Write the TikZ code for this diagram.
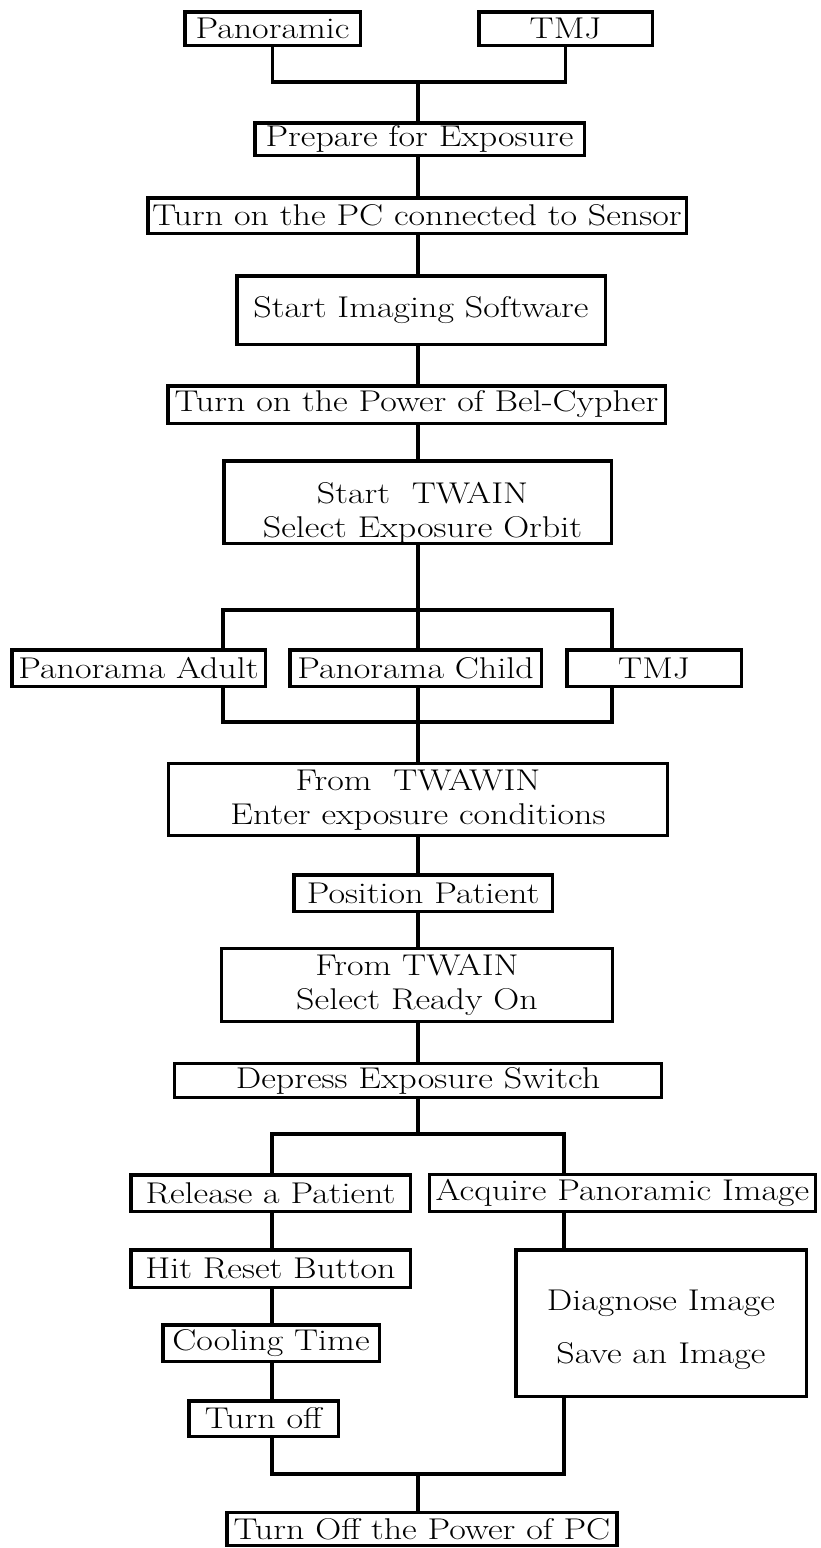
\documentclass[tikz,border=0pt]{standalone}
\usepackage{fontspec}
\setmainfont{Latin Modern Roman}[FakeStretch=1.2]
\begin{document}
\begin{tikzpicture}[x=1pt,y=-1pt,
  box/.style={draw=black, fill=white, line width=3.5pt, inner sep=0pt,
    font=\fontsize{30}{34}\selectfont, align=center},
  thinbox/.style={box, line width=2.8pt},
  conn/.style={draw=black, line width=3.3pt, line join=miter}]
\useasboundingbox (0,0) rectangle (821,1548);

% boxes
\node[box, minimum width=175.5, minimum height=33.5] (pan) at (272.5,28.5) {Panoramic};
\node[box, minimum width=173.5, minimum height=33.5] (tmj1) at (565.5,28.5) {TMJ};
\node[box, minimum width=329.5, minimum height=32.5] (prep) at (419.5,139) {Prepare for Exposure};
\node[box, minimum width=538.5, minimum height=35.5] (pc) at (417,215.5) {Turn on the PC connected to Sensor};
\node[box, minimum width=368.5, minimum height=68.5] (soft) at (421,310) {Start Imaging Software};
\node[box, minimum width=497.5, minimum height=37.5] (bel) at (416.5,404.5) {Turn on the Power of Bel-Cypher};
\node[box, minimum width=387.5, minimum height=82.5, align=none] (twain) at (417.5,502)
  {\hspace*{10pt}\raisebox{-12pt}[\height][\depth]{\begin{tabular}{@{}c@{}}Start\ \ TWAIN\\Select Exposure Orbit\end{tabular}}};
\node[box, minimum width=253.5, minimum height=36.5] (adult) at (138.5,668) {Panorama Adult};
\node[box, minimum width=251.5, minimum height=36.5] (child) at (415.5,668) {Panorama Child};
\node[box, minimum width=174.5, minimum height=36.5] (tmj2) at (654,668) {TMJ};
\node[thinbox, minimum width=499, minimum height=72] (twawin) at (418,799.5) {From\ \ TWAWIN\\Enter exposure conditions};
\node[box, minimum width=258.5, minimum height=36.5] (pos) at (423,893) {Position Patient};
\node[thinbox, minimum width=391, minimum height=73] (ready) at (417,985) {From TWAIN\\Select Ready On};
\node[thinbox, minimum width=487, minimum height=34] (depress) at (418,1080.5) {Depress Exposure Switch};
\node[box, minimum width=279.5, minimum height=36.5] (release) at (270.5,1193) {Release a Patient};
\node[thinbox, minimum width=386, minimum height=37] (acquire) at (622.5,1193) {Acquire Panoramic Image};
\node[box, minimum width=279.5, minimum height=37.5] (hit) at (270.5,1268.5) {Hit Reset Button};
\node[box, minimum width=216.5, minimum height=36.5] (cool) at (271,1343) {Cooling Time};
\node[box, minimum width=149.5, minimum height=35.5] (off) at (263.5,1418.5) {Turn off};
\node[box, minimum width=290.5, minimum height=146.5, align=none] (diag) at (661,1323)
  {\raisebox{-7pt}[\height][\depth]{\begin{tabular}{@{}c@{}}Diagnose Image\\[19pt]Save an Image\end{tabular}}};
\node[box, minimum width=390, minimum height=33] (final) at (422,1529) {Turn Off the Power of PC};

% junction points
\coordinate (c) at (418,0);
\coordinate (j1) at (418,82);
\coordinate (b1) at (418,610);
\coordinate (b1l) at (223,610);
\coordinate (b1r) at (612,610);
\coordinate (b2) at (418,722);
\coordinate (b2l) at (223,722);
\coordinate (b2r) at (612,722);
\coordinate (b3) at (418,1134);
\coordinate (b3l) at (272,1134);
\coordinate (b3r) at (564,1134);
\coordinate (b4) at (418,1474);
\coordinate (b4l) at (272,1474);
\coordinate (b4r) at (564,1474);

% connectors
\begin{scope}[on background layer/.style={}]
\draw[conn] (pan.south) |- (j1) -| (tmj1.south);
\draw[conn] (j1) -- (prep.north -| c);
\draw[conn] (prep.south -| c) -- (pc.north -| c);
\draw[conn] (pc.south -| c) -- (soft.north -| c);
\draw[conn] (soft.south -| c) -- (bel.north -| c);
\draw[conn] (bel.south -| c) -- (twain.north -| c);
\draw[conn] (twain.south -| c) -- (b1);
\draw[conn] (adult.north -| b1l) -- (b1l) -- (b1r) -- (tmj2.north -| b1r);
\draw[conn] (b1) -- (child.north -| c);
\draw[conn] (adult.south -| b2l) -- (b2l) -- (b2r) -- (tmj2.south -| b2r);
\draw[conn] (child.south -| c) -- (b2) -- (twawin.north -| c);
\draw[conn] (twawin.south -| c) -- (pos.north -| c);
\draw[conn] (pos.south -| c) -- (ready.north -| c);
\draw[conn] (ready.south -| c) -- (depress.north -| c);
\draw[conn] (depress.south -| c) -- (b3);
\draw[conn] (release.north -| b3l) -- (b3l) -- (b3r) -- (acquire.north -| b3r);
\draw[conn] (release.south -| b3l) -- (hit.north -| b3l);
\draw[conn] (hit.south -| b3l) -- (cool.north -| b3l);
\draw[conn] (cool.south -| b3l) -- (off.north -| b3l);
\draw[conn] (acquire.south -| b3r) -- (diag.north -| b3r);
\draw[conn] (off.south -| b4l) -- (b4l) -- (b4r) -- (diag.south -| b4r);
\draw[conn] (b4) -- (final.north -| c);
\end{scope}
\end{tikzpicture}
\end{document}
